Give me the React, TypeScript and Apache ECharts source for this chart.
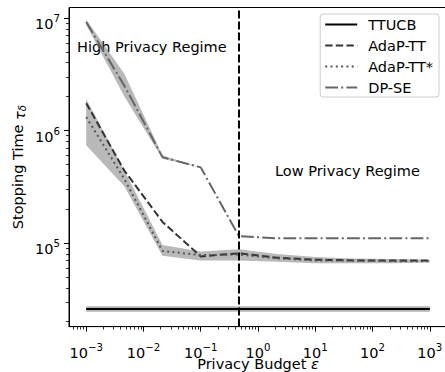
import React, { useEffect, useRef } from "react";
import * as echarts from "echarts";

// ---- data ----
const epsilon = [0.001, 0.00464, 0.0215, 0.1, 0.464, 2.15, 10, 46.4, 215, 1000];

const ttucb = [2.59e4, 2.59e4, 2.59e4, 2.59e4, 2.59e4, 2.59e4, 2.59e4, 2.59e4, 2.59e4, 2.59e4];
const ttucbLow = [2.45e4, 2.45e4, 2.45e4, 2.45e4, 2.45e4, 2.45e4, 2.45e4, 2.45e4, 2.45e4, 2.45e4];
const ttucbHigh = [2.74e4, 2.74e4, 2.74e4, 2.74e4, 2.74e4, 2.74e4, 2.74e4, 2.74e4, 2.74e4, 2.74e4];

const adapTT = [1.75e6, 4.4e5, 1.54e5, 7.6e4, 8.1e4, 7.4e4, 7.1e4, 7.0e4, 7.0e4, 7.0e4];

const adapTTStar = [1.32e6, 3.7e5, 8.5e4, 7.8e4, 7.9e4, 7.3e4, 7.0e4, 7.0e4, 6.9e4, 6.9e4];
const adapTTStarLow = [7.4e5, 3.2e5, 7.7e4, 7.0e4, 7.0e4, 6.8e4, 6.6e4, 6.6e4, 6.6e4, 6.7e4];
const adapTTStarHigh = [1.9e6, 4.4e5, 9.6e4, 8.4e4, 8.8e4, 8.0e4, 7.5e4, 7.3e4, 7.2e4, 7.1e4];

const dpse = [9.2e6, 2.5e6, 5.8e5, 4.7e5, 1.15e5, 1.1e5, 1.1e5, 1.1e5, 1.1e5, 1.1e5];
const dpseLow = [8.7e6, 2.0e6, 5.6e5, 4.7e5, 1.15e5, 1.1e5, 1.1e5, 1.1e5, 1.1e5, 1.1e5];
const dpseHigh = [9.7e6, 3.2e6, 6.0e5, 4.7e5, 1.15e5, 1.1e5, 1.1e5, 1.1e5, 1.1e5, 1.1e5];

const privacyThreshold = 0.464;

const xMajorExponents = [-3, -2, -1, 0, 1, 2, 3];
const yMajorExponents = [5, 6, 7];
const minorMultipliers = [2, 3, 4, 5, 6, 7, 8, 9];

const X_MIN = -3.3;
const X_MAX = 3.3;
const Y_MIN = 4.257;
const Y_MAX = 7.093;

const FONT = "DejaVu Sans";

const lg = (v: number) => Math.log10(v);

function minorTicks(lo: number, hi: number) {
  const out: number[] = [];
  for (let n = Math.floor(lo) - 1; n <= Math.ceil(hi); n++) {
    for (const k of minorMultipliers) {
      const v = n + Math.log10(k);
      if (v > lo && v < hi) out.push(v);
    }
  }
  return out;
}

const powLabel = (v: number) => {
  const n = Math.round(v);
  return `{b|10}{s|${n < 0 ? "\u2212" : ""}${Math.abs(n)}}`;
};

const labelRich = {
  b: { fontSize: 14.5, fontFamily: FONT, lineHeight: 18, verticalAlign: "bottom", color: "#000" },
  s: { fontSize: 10.2, fontFamily: FONT, lineHeight: 8, verticalAlign: "top", color: "#000" },
};

const pts = (vals: number[]) => epsilon.map((e, i) => [lg(e), lg(vals[i])]);

function band(lo: number[], hi: number[], color: string) {
  return {
    type: "custom",
    silent: true,
    z: 1,
    data: epsilon.map((e, i) => [lg(e), lg(lo[i]), lg(hi[i])]),
    encode: { x: 0, y: [1, 2] },
    renderItem: (params: any, api: any) => {
      if (params.dataIndex !== 0) return null;
      const upper = epsilon.map((e, i) => api.coord([lg(e), lg(hi[i])]));
      const lower = epsilon.map((e, i) => api.coord([lg(e), lg(lo[i])])).reverse();
      return {
        type: "polygon",
        shape: { points: upper.concat(lower) },
        style: { fill: color, stroke: "none" },
        silent: true,
      };
    },
  };
}

export default function App() {
  const ref = useRef<HTMLDivElement>(null);

  useEffect(() => {
    if (!ref.current) return;
    const chart = echarts.init(ref.current, null, { renderer: "svg" });
    const axisColor = "#000";
    const bandGray = "rgba(100,100,100,0.45)";

    const option: any = {
      animation: false,
      backgroundColor: "#fff",
      grid: {
        left: 69,
        top: 7.5,
        width: 378,
        height: 319.1,
        outerBoundsMode: "none",
        containLabel: false,
        show: true,
        borderColor: axisColor,
        borderWidth: 1,
        backgroundColor: "transparent",
      },
      xAxis: [
        {
          type: "value",
          min: X_MIN,
          max: X_MAX,
          name: "Privacy Budget {i|\u03b5}",
          nameLocation: "middle",
          nameGap: 30,
          nameMoveOverlap: false,
          nameTextStyle: {
            fontFamily: FONT,
            fontSize: 14.5,
            color: "#000",
            rich: { i: { fontFamily: FONT, fontSize: 14.5, fontStyle: "italic", color: "#000" } },
          },
          axisLine: { show: true, onZero: false, lineStyle: { color: axisColor, width: 1 } },
          axisTick: { show: true, customValues: xMajorExponents, length: 5, lineStyle: { color: axisColor, width: 1 } },
          axisLabel: { customValues: xMajorExponents, formatter: powLabel, rich: labelRich, margin: 16 },
          splitLine: { show: false },
        },
        {
          type: "value",
          min: X_MIN,
          max: X_MAX,
          position: "bottom",
          axisLine: { show: false, onZero: false },
          axisTick: { show: true, customValues: minorTicks(X_MIN, X_MAX), length: 3, lineStyle: { color: axisColor, width: 0.8 } },
          axisLabel: { show: false },
          splitLine: { show: false },
        },
      ],
      yAxis: [
        {
          type: "value",
          min: Y_MIN,
          max: Y_MAX,
          name: "Stopping Time {i|\u03c4}{d|\u03b4}",
          nameLocation: "middle",
          nameGap: 42,
          nameMoveOverlap: false,
          nameTextStyle: {
            fontFamily: FONT,
            fontSize: 14.5,
            color: "#000",
            rich: {
              i: { fontFamily: FONT, fontSize: 14.5, fontStyle: "italic", color: "#000", lineHeight: 18, verticalAlign: "bottom" },
              d: { fontFamily: FONT, fontSize: 10.2, fontStyle: "italic", color: "#000", lineHeight: 12, verticalAlign: "bottom" },
            },
          },
          axisLine: { show: true, onZero: false, lineStyle: { color: axisColor, width: 1 } },
          axisTick: { show: true, customValues: yMajorExponents, length: 5, lineStyle: { color: axisColor, width: 1 } },
          axisLabel: { customValues: yMajorExponents, formatter: powLabel, rich: labelRich, margin: 9, padding: [10, 0, 0, 0] },
          splitLine: { show: false },
        },
        {
          type: "value",
          min: Y_MIN,
          max: Y_MAX,
          position: "left",
          axisLine: { show: false, onZero: false },
          axisTick: { show: true, customValues: minorTicks(Y_MIN, Y_MAX), length: 3, lineStyle: { color: axisColor, width: 0.8 } },
          axisLabel: { show: false },
          splitLine: { show: false },
        },
      ],
      legend: {
        data: ["TTUCB", "AdaP-TT", "AdaP-TT*", "DP-SE"],
        orient: "vertical",
        right: 6,
        top: 14,
        align: "left",
        itemWidth: 32,
        itemHeight: 14,
        itemGap: 6,
        padding: [3, 6, 2, 4],
        backgroundColor: "rgba(255,255,255,0.8)",
        borderColor: "#cccccc",
        borderWidth: 1,
        borderRadius: 3,
        itemStyle: { opacity: 0 },
        textStyle: { fontFamily: FONT, fontSize: 14.5, color: "#000", padding: [0, 0, 0, 6], lineHeight: 14 },
      },
      graphic: [
        {
          type: "text",
          x: 77,
          y: 47,
          style: { text: "High Privacy Regime", fontFamily: FONT, fontSize: 14.5, fill: "#000", align: "left", verticalAlign: "middle" },
        },
        {
          type: "text",
          x: 275,
          y: 171,
          style: { text: "Low Privacy Regime", fontFamily: FONT, fontSize: 14.5, fill: "#000", align: "left", verticalAlign: "middle" },
        },
      ],
      series: [
        band(ttucbLow, ttucbHigh, "rgba(90,90,90,0.45)"),
        band(adapTTStarLow, adapTTStarHigh, bandGray),
        band(dpseLow, dpseHigh, bandGray),
        {
          name: "TTUCB",
          type: "line",
          data: pts(ttucb),
          symbol: "none",
          color: "#000000",
          lineStyle: { color: "#000000", width: 2.2, type: "solid" },
          z: 3,
          markLine: {
            silent: true,
            symbol: "none",
            label: { show: false },
            lineStyle: { color: "#000", width: 2, type: [8, 3] },
            data: [{ xAxis: lg(privacyThreshold) }],
          },
        },
        {
          name: "AdaP-TT",
          type: "line",
          data: pts(adapTT),
          symbol: "none",
          color: "#333333",
          lineStyle: { color: "#333333", width: 2, type: [7.4, 3.2] },
          z: 3,
        },
        {
          name: "AdaP-TT*",
          type: "line",
          data: pts(adapTTStar),
          symbol: "none",
          color: "#555555",
          lineStyle: { color: "#555555", width: 2, type: [2, 3.3] },
          z: 3,
        },
        {
          name: "DP-SE",
          type: "line",
          data: pts(dpse),
          symbol: "none",
          color: "#666666",
          lineStyle: { color: "#666666", width: 2, type: [12.8, 3.2, 2, 3.2] },
          z: 3,
        },
      ],
    };

    chart.setOption(option);
    return () => chart.dispose();
  }, []);

  return (
    <div
      ref={ref}
      style={{ position: "fixed", left: 0, top: 0, width: 445, height: 372, background: "#fff" }}
    />
  );
}
